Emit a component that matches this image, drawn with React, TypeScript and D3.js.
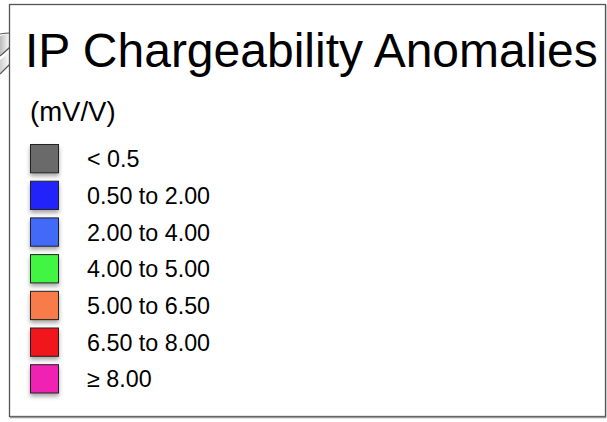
import { useEffect, useRef } from 'react';
import * as d3 from 'd3';

// legend content
const title = 'IP Chargeability Anomalies';
const unitLabel = '(mV/V)';
const classLabels = ['< 0.5', '0.50 to 2.00', '2.00 to 4.00', '4.00 to 5.00', '5.00 to 6.50', '6.50 to 8.00', '≥ 8.00'];
const classColors = ['#6b6b6b', '#2323fa', '#3f6af7', '#42f542', '#f77c4a', '#f0141e', '#f021b4'];

const W = 607;
const H = 422;
const FONT = '"Liberation Sans", Arial, sans-serif';

export default function App() {
  const ref = useRef<SVGSVGElement | null>(null);

  useEffect(() => {
    if (!ref.current) return;
    const svg = d3.select(ref.current);
    svg.selectAll('*').remove();

    const defs = svg.append('defs');
    defs.append('filter')
      .attr('id', 'swShadow')
      .attr('x', '-30%').attr('y', '-30%').attr('width', '160%').attr('height', '170%')
      .append('feDropShadow')
      .attr('dx', 0).attr('dy', 3).attr('stdDeviation', 2)
      .attr('flood-color', '#000').attr('flood-opacity', 0.35);

    const grad = defs.append('linearGradient')
      .attr('id', 'swirl').attr('x1', 0).attr('x2', 1).attr('y1', 0).attr('y2', 0);
    grad.append('stop').attr('offset', '0%').attr('stop-color', '#bbb');
    grad.append('stop').attr('offset', '100%').attr('stop-color', '#fff');

    // bits of the decoration sticking out on the left
    const deco = svg.append('g');
    deco.append('path')
      .attr('d', 'M0,36 L10,33 L10,48 L0,56 Z')
      .attr('fill', 'url(#swirl)');
    deco.append('path')
      .attr('d', 'M0,60 L10,52 L10,66 L0,74 Z')
      .attr('fill', 'url(#swirl)').attr('opacity', 0.7);
    ['M0,34 Q5,33 10,33', 'M0,56 Q5,52 10,47', 'M0,74 Q5,69 10,64'].forEach((d) => {
      deco.append('path').attr('d', d).attr('fill', 'none').attr('stroke', '#555').attr('stroke-width', 1.2);
    });

    // frame
    svg.append('rect')
      .attr('x', 9.5).attr('y', 4.5).attr('width', 596).attr('height', 412)
      .attr('fill', '#fff').attr('stroke', '#555').attr('stroke-width', 1.3);
    svg.append('line')
      .attr('x1', 10).attr('x2', 606).attr('y1', 417.5).attr('y2', 417.5)
      .attr('stroke', '#999').attr('stroke-width', 1.5);
    svg.append('line')
      .attr('x1', 606.5).attr('x2', 606.5).attr('y1', 5).attr('y2', 418)
      .attr('stroke', '#ccc').attr('stroke-width', 1);

    svg.append('text')
      .attr('x', 25).attr('y', 67)
      .attr('font-family', FONT)
      .attr('font-size', 48)
      .attr('fill', '#000')
      .text(title);

    svg.append('text')
      .attr('x', 30).attr('y', 121)
      .attr('font-family', FONT)
      .attr('font-size', 27.5)
      .attr('fill', '#000')
      .text(unitLabel);

    const step = 36.7;
    const swatch = 28.3;
    const y = d3.scaleBand<string>()
      .domain(classLabels)
      .range([144, 144 + step * (classLabels.length - 1) + swatch])
      .paddingInner(1 - swatch / step)
      .paddingOuter(0);

    const rows = svg.append('g')
      .selectAll('g')
      .data(classLabels)
      .enter()
      .append('g')
      .attr('transform', (d) => `translate(0,${y(d)})`);

    rows.append('rect')
      .attr('x', 30.5).attr('y', 0.5)
      .attr('width', 28).attr('height', y.bandwidth())
      .attr('fill', (_, i) => classColors[i])
      .attr('stroke', '#222').attr('stroke-width', 1)
      .attr('filter', 'url(#swShadow)');

    rows.append('text')
      .attr('x', 87)
      .attr('y', y.bandwidth() / 2 + 9)
      .attr('font-family', FONT)
      .attr('font-size', 23.3)
      .attr('fill', '#000')
      .text((d) => d);
  }, []);

  return (
    <svg
      ref={ref}
      width={W}
      height={H}
      style={{ position: 'absolute', left: 0, top: 0, background: '#fff' }}
    />
  );
}
